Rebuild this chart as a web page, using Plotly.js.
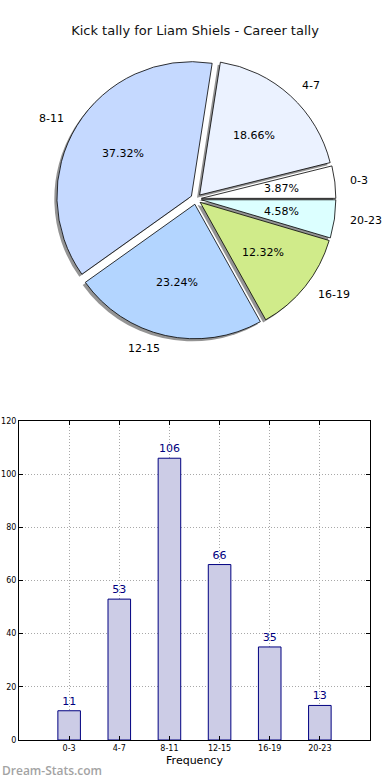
<!DOCTYPE html>
<html>
<head>
<meta charset="utf-8">
<script src="https://cdn.plot.ly/plotly-3.0.1.min.js"></script>
<style>
html,body{margin:0;padding:0;background:#fff;}
#chart{width:390px;height:780px;}
</style>
</head>
<body>
<div id="chart"></div>
<script>
// ---- data ----
var categories = ["0-3", "4-7", "8-11", "12-15", "16-19", "20-23"];
var kickCounts = [11, 53, 106, 66, 35, 13];
var sliceColors = ["#ffffff", "#ebf2ff", "#c5d9ff", "#b3d5ff", "#d0eb8a", "#dcffff"];
var titleText = "Kick tally for Liam Shiels - Career tally";
var xTitle = "Frequency";
var watermark = "Dream-Stats.com";

// ---- layout helpers (pixel -> paper) ----
var W = 390, H = 780;
function px(x){ return x / W; }
function py(y){ return 1 - y / H; }

var total = kickCounts.reduce(function(a, b){ return a + b; }, 0);
var pullVal = 0.04;
var pulls = categories.map(function(){ return pullVal; });
var R = 134.5;                     // pie radius in px
var pieCx = 196, pieCy = 199;
var half = R * (1 + pullVal);
var pieDomain = {
  x: [px(pieCx - half), px(pieCx + half)],
  y: [py(pieCy + half), py(pieCy - half)]
};
var shOff = 2.6;
var shadowDomain = {
  x: [px(pieCx - half - shOff), px(pieCx + half - shOff)],
  y: [py(pieCy + half + shOff), py(pieCy - half + shOff)]
};
// start the first slice at 3 o'clock and go counterclockwise
var rotation = 90 - 360 * kickCounts[0] / total;

var font = "DejaVu Sans, sans-serif";

var common = {
  type: "pie",
  labels: categories,
  values: kickCounts,
  sort: false,
  direction: "counterclockwise",
  rotation: rotation,
  pull: pulls,
  hoverinfo: "skip",
  textinfo: "none",
  showlegend: false
};

var shadow = Object.assign({}, common, {
  domain: shadowDomain,
  marker: {colors: categories.map(function(){ return "rgba(0,0,0,0.42)"; }), line: {width: 0}}
});

var pieMain = Object.assign({}, common, {
  domain: pieDomain,
  marker: {colors: sliceColors, line: {color: "#000000", width: 0.8}}
});

// hidden axes in pie units (1 unit = R px) used to place the pie's text
var K = 1.38;
var pieAxisTrace = {
  type: "scatter", x: [], y: [], xaxis: "x2", yaxis: "y2",
  mode: "none", hoverinfo: "skip", showlegend: false
};

var pieAnnotations = [];
var cum = 0;
kickCounts.forEach(function(v, i){
  var theta = 2 * Math.PI * (cum + v / 2) / total;
  cum += v;
  var c = Math.cos(theta), s = Math.sin(theta);
  var pct = (100 * v / total).toFixed(2) + "%";
  pieAnnotations.push({
    xref: "x2", yref: "y2",
    x: (pulls[i] + 0.6) * c, y: (pulls[i] + 0.6) * s,
    text: pct, showarrow: false,
    xanchor: "center", yanchor: "middle",
    font: {family: font, size: 11, color: "#000000"}
  });
  var lx = (pulls[i] + 1.1) * c, ly = (pulls[i] + 1.1) * s;
  pieAnnotations.push({
    xref: "x2", yref: "y2",
    x: lx, y: ly,
    text: categories[i], showarrow: false,
    xanchor: lx > 0 ? "left" : "right", yanchor: "middle",
    font: {family: font, size: 11, color: "#000000"}
  });
});

var bars = {
  type: "bar",
  x: categories,
  y: kickCounts,
  xaxis: "x",
  yaxis: "y",
  width: 0.45,
  marker: {color: "#cccce6", line: {color: "#000080", width: 1}},
  text: kickCounts.map(String),
  textposition: "outside",
  textfont: {family: font, size: 11, color: "#000080"},
  cliponaxis: false,
  hoverinfo: "skip",
  showlegend: false
};

var layout = {
  width: W,
  height: H,
  margin: {l: 0, r: 0, t: 0, b: 0},
  paper_bgcolor: "#ffffff",
  plot_bgcolor: "rgba(0,0,0,0)",
  font: {family: font, color: "#000000"},
  title: {
    text: titleText,
    x: 0.5, xanchor: "center",
    y: py(30), yanchor: "middle",
    font: {family: font, size: 13, color: "#111111"}
  },
  xaxis: {
    domain: [px(19), px(370)],
    anchor: "y",
    type: "category",
    range: [-1, 6],
    showline: true, linecolor: "#000000", linewidth: 1, mirror: "ticks",
    ticks: "inside", ticklen: 4, tickcolor: "#000000",
    tickfont: {family: font, size: 8, color: "#000000"},
    showgrid: true, gridcolor: "#a8a8a8", griddash: "1px,2px", gridwidth: 1,
    title: {text: xTitle, font: {family: font, size: 11, color: "#000000"}, standoff: 4},
    fixedrange: true
  },
  yaxis: {
    domain: [py(740), py(421)],
    anchor: "x",
    range: [0, 120],
    dtick: 20,
    showline: true, linecolor: "#000000", linewidth: 1, mirror: "ticks",
    ticks: "inside", ticklen: 4, tickcolor: "#000000",
    tickfont: {family: font, size: 8, color: "#000000"},
    showgrid: true, gridcolor: "#a8a8a8", griddash: "1px,2px", gridwidth: 1,
    zeroline: false,
    fixedrange: true
  },
  xaxis2: {
    domain: [px(pieCx - K * R), px(pieCx + K * R)],
    anchor: "y2", range: [-K, K], visible: false, fixedrange: true
  },
  yaxis2: {
    domain: [py(pieCy + K * R), py(pieCy - K * R)],
    anchor: "x2", range: [-K, K], visible: false, fixedrange: true
  },
  bargap: 0,
  annotations: pieAnnotations.concat([{
    text: watermark,
    xref: "paper", yref: "paper",
    x: 0, y: py(770),
    xanchor: "left", yanchor: "middle",
    showarrow: false,
    font: {family: "Open Sans, sans-serif", size: 12, color: "#a3a3a3", weight: 600}
  }])
};

Plotly.newPlot("chart", [bars, pieAxisTrace, shadow, pieMain], layout, {displayModeBar: false, staticPlot: true});
</script>
</body>
</html>
